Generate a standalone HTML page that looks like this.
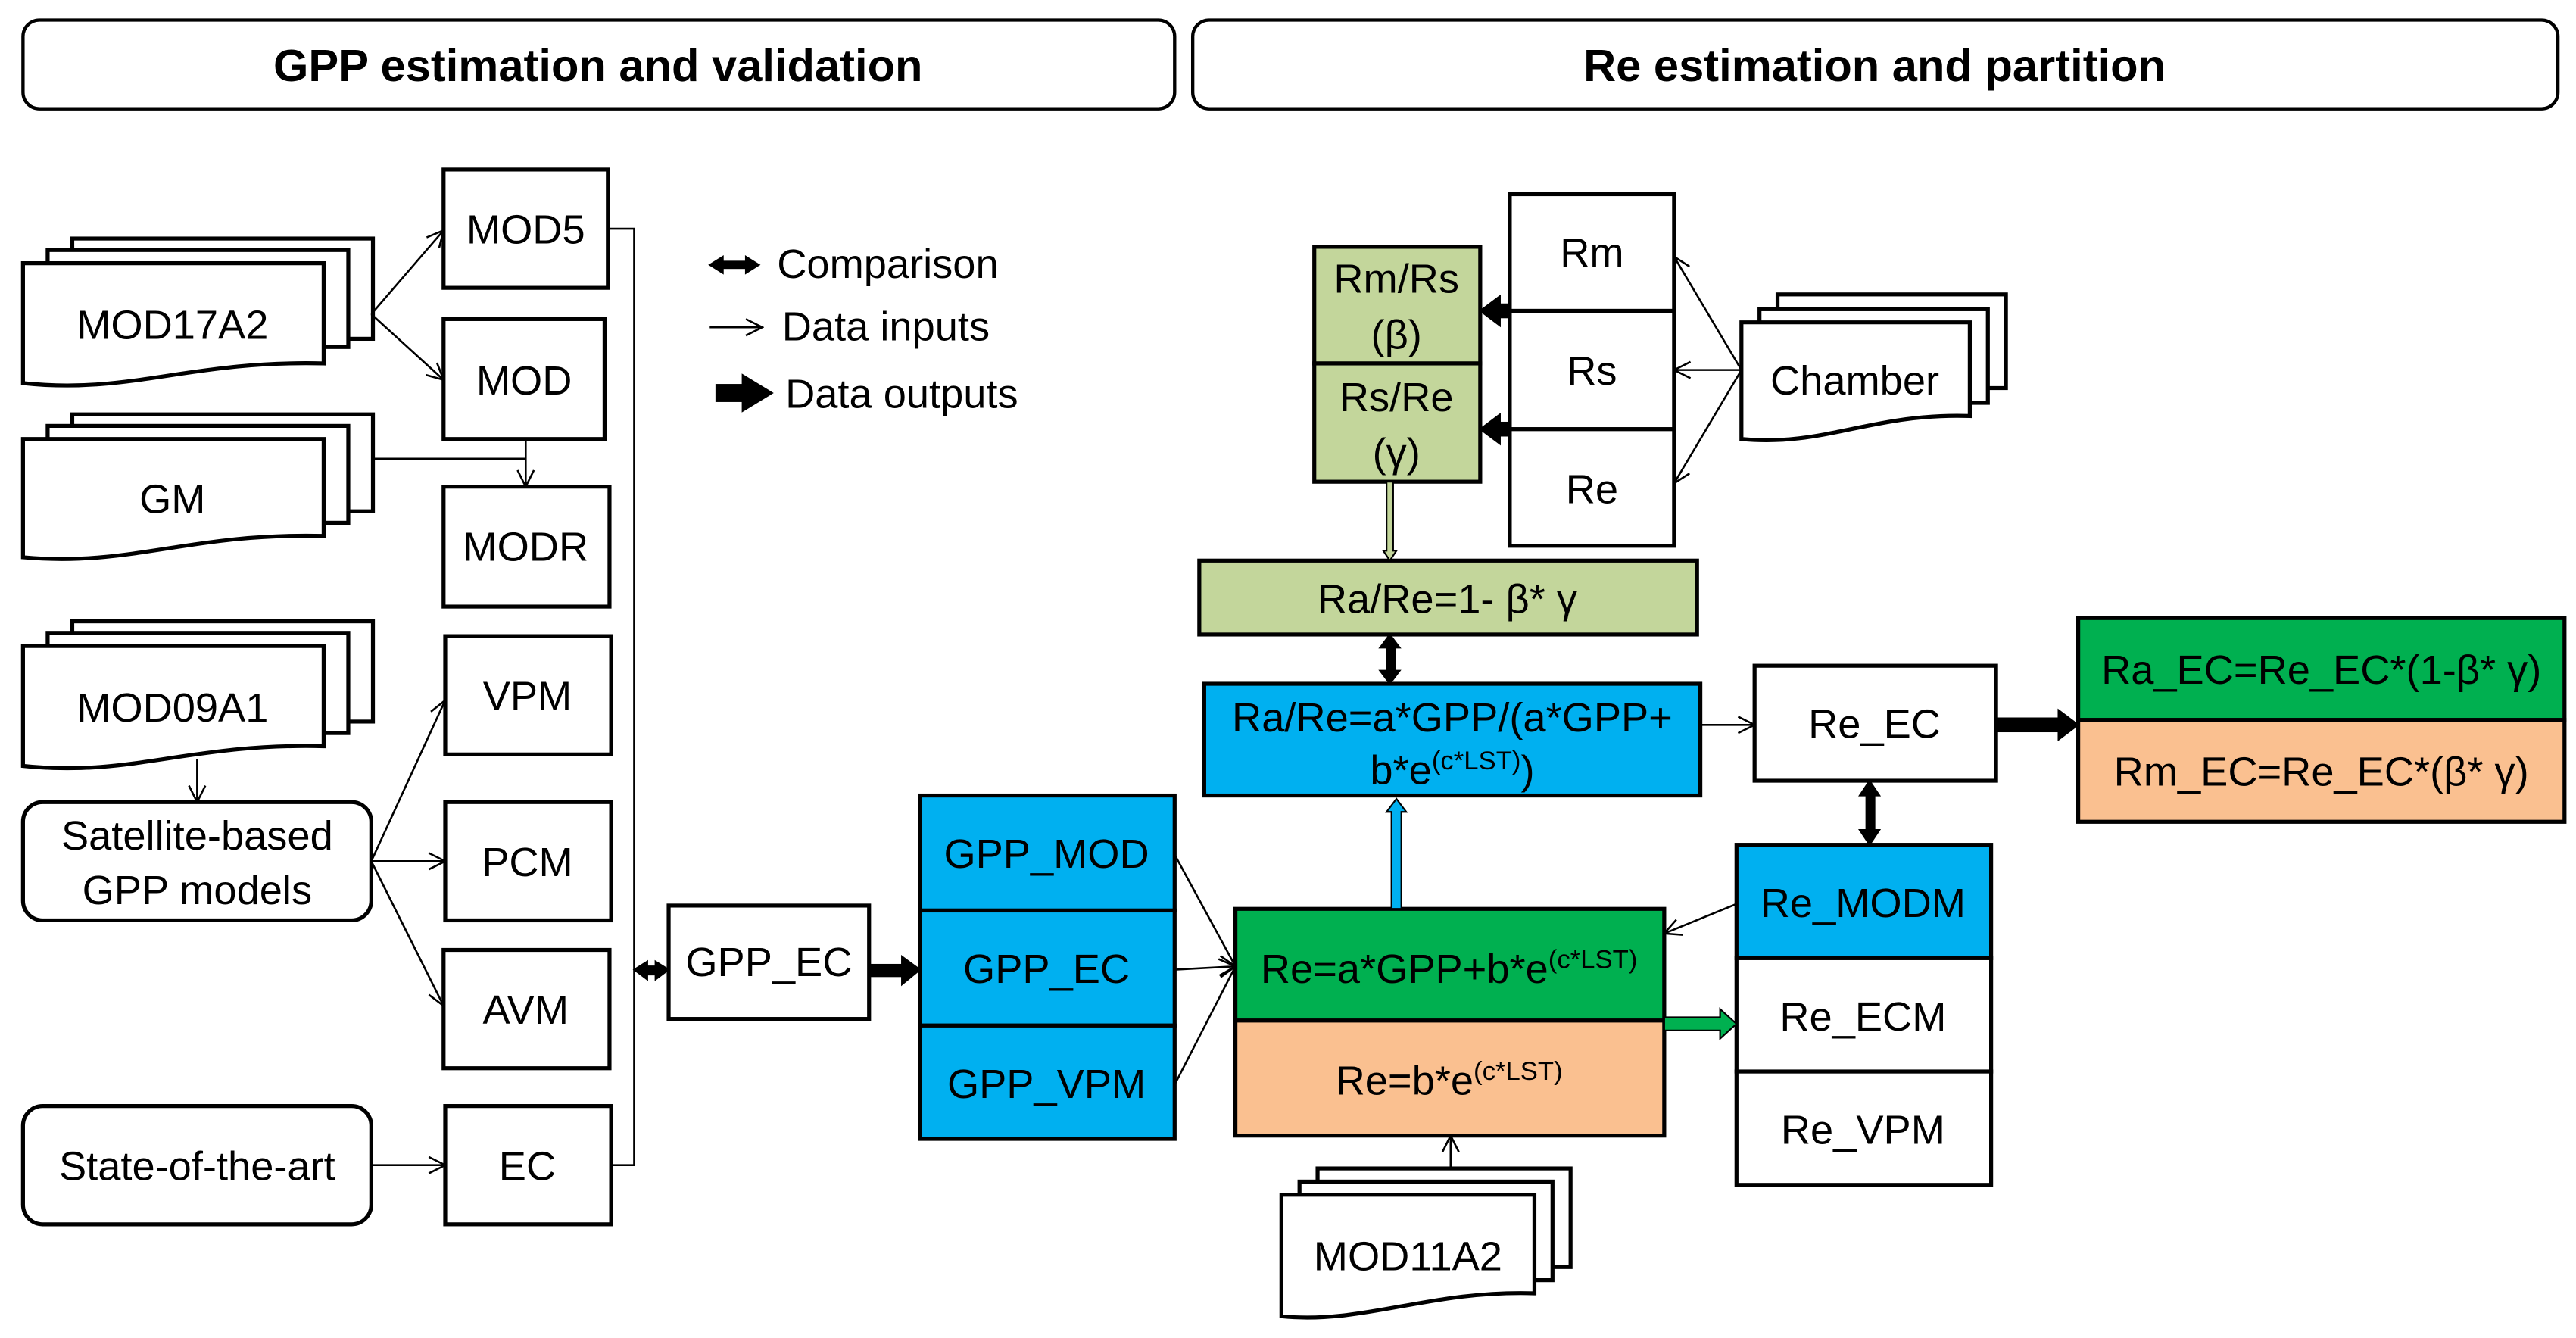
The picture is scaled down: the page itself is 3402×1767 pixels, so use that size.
<!DOCTYPE html>
<html><head><meta charset="utf-8"><style>html,body{margin:0;padding:0;background:#fff}svg{display:block}text{font-family:"Liberation Sans","DejaVu Sans",sans-serif;fill:#000}</style></head>
<body>
<svg width="3402" height="1767" viewBox="0 0 1568 814" xmlns="http://www.w3.org/2000/svg">
<defs>
<marker id="a" markerWidth="12" markerHeight="12" refX="11" refY="6" orient="auto" markerUnits="userSpaceOnUse"><path d="M1,1 L11,6 L1,11" fill="none" stroke="#000" stroke-width="1.2"/></marker>
</defs>
<g stroke="#000" stroke-width="2" fill="#fff">
<rect x="14" y="12" width="701" height="54" rx="10"/>
<rect x="726" y="12" width="831" height="54" rx="10"/>
</g>
<text x="364" y="49" font-size="27.5" font-weight="bold" text-anchor="middle">GPP estimation and validation</text>
<text x="1141" y="49" font-size="27.5" font-weight="bold" text-anchor="middle">Re estimation and partition</text>

<g stroke="#000" stroke-width="2.4" fill="#fff">
<rect x="44" y="145" width="183" height="61"/><rect x="29" y="152" width="183" height="59"/>
<path d="M14,160 H197 V221 C115,219 80,240 14,233 Z"/>
<rect x="44" y="252" width="183" height="59"/><rect x="29" y="259" width="183" height="59"/>
<path d="M14,267 H197 V326 C115,324 80,345 14,339 Z"/>
<rect x="44" y="378" width="183" height="61"/><rect x="29" y="385" width="183" height="61"/>
<path d="M14,393 H197 V454 C115,452 80,473 14,466 Z"/>
<rect x="1082" y="179" width="139" height="57"/><rect x="1071" y="188" width="139" height="57"/>
<path d="M1060,196 H1199 V253 C1140,251 1110,272 1060,267 Z"/>
<rect x="802" y="711" width="154" height="60"/><rect x="791" y="719" width="154" height="60"/>
<path d="M780,727 H934 V787 C870,785 830,806 780,801 Z"/>

<rect x="270" y="103" width="100" height="72"/>
<rect x="270" y="194" width="98" height="73"/>
<rect x="270" y="296" width="101" height="73"/>
<rect x="271" y="387" width="101" height="72"/>
<rect x="271" y="488" width="101" height="72"/>
<rect x="270" y="578" width="101" height="72"/>
<rect x="271" y="673" width="101" height="72"/>
<rect x="14" y="488" width="212" height="72" rx="12"/>
<rect x="14" y="673" width="212" height="72" rx="12"/>
<rect x="407" y="551" width="122" height="69"/>
<rect x="560" y="484" width="155" height="70" fill="#00b0f0"/>
<rect x="560" y="554" width="155" height="70" fill="#00b0f0"/>
<rect x="560" y="624" width="155" height="69" fill="#00b0f0"/>

<rect x="800" y="150" width="101" height="71" fill="#c3d69b"/>
<rect x="800" y="221" width="101" height="72" fill="#c3d69b"/>
<rect x="919" y="118" width="100" height="71"/>
<rect x="919" y="189" width="100" height="72"/>
<rect x="919" y="261" width="100" height="71"/>
<rect x="730" y="341" width="303" height="45" fill="#c3d69b"/>
<rect x="733" y="416" width="302" height="68" fill="#00b0f0"/>
<rect x="1068" y="405" width="147" height="70"/>
<rect x="1265" y="376" width="296" height="62" fill="#00b050"/>
<rect x="1265" y="438" width="296" height="62" fill="#fac090"/>
<rect x="1057" y="514" width="155" height="69" fill="#00b0f0"/>
<rect x="1057" y="583" width="155" height="69"/>
<rect x="1057" y="652" width="155" height="69"/>
<rect x="752" y="553" width="261" height="68" fill="#00b050"/>
<rect x="752" y="621" width="261" height="70" fill="#fac090"/>
</g>

<g stroke="#000" stroke-width="1.2" fill="none" marker-end="url(#a)">
<line x1="226" y1="191" x2="270" y2="140"/>
<line x1="226" y1="191" x2="270" y2="231"/>
<line x1="320" y1="267" x2="320" y2="296"/>
<line x1="120" y1="462" x2="120" y2="488"/>
<line x1="226" y1="524" x2="271" y2="426"/>
<line x1="226" y1="524" x2="271" y2="524"/>
<line x1="226" y1="524" x2="270" y2="612"/>
<line x1="226" y1="709" x2="271" y2="709"/>
<line x1="432" y1="199" x2="464" y2="199"/>
<line x1="715" y1="520" x2="752" y2="588"/>
<line x1="715" y1="590" x2="752" y2="588"/>
<line x1="715" y1="660" x2="752" y2="588"/>
<line x1="1060" y1="225" x2="1019" y2="156"/>
<line x1="1060" y1="225" x2="1019" y2="225"/>
<line x1="1060" y1="225" x2="1019" y2="294"/>
<line x1="1035" y1="441" x2="1068" y2="441"/>
<line x1="1057" y1="550" x2="1013" y2="568"/>
<line x1="883" y1="711" x2="883" y2="691"/>
</g>
<g stroke="#000" stroke-width="1.2" fill="none">
<line x1="226" y1="279" x2="320" y2="279"/>
<polyline points="370,139 386,139 386,709 372,709"/>
</g>

<g fill="#000" stroke="#000" stroke-width="1">
<rect x="438" y="159" width="18" height="4"/><path d="M432,161 L440,156 L440,166 Z M462,161 L454,156 L454,166 Z"/>
<rect x="436" y="234" width="20" height="10"/><path d="M452,228 L470,239 L452,250 Z"/>
<rect x="392" y="588" width="10" height="5"/><path d="M386,590 L394,585 L394,596 Z M407,590 L399,585 L399,596 Z"/>
<rect x="529" y="587" width="22" height="7"/><path d="M549,582 L560,590 L549,599 Z"/>
<rect x="911" y="185" width="8" height="8"/><path d="M901,189 L913,180 L913,198 Z"/>
<rect x="911" y="257" width="8" height="8"/><path d="M901,261 L913,252 L913,270 Z"/>
<rect x="844" y="392" width="5" height="18"/><path d="M846,386 L840,394 L852,394 Z M846,416 L840,408 L852,408 Z"/>
<rect x="1215" y="437" width="40" height="8"/><path d="M1253,432 L1265,441 L1253,450 Z"/>
<rect x="1136" y="482" width="5" height="25"/><path d="M1138,475 L1132,484 L1144,484 Z M1138,514 L1132,505 L1144,505 Z"/>
</g>
<path d="M844,293 V335 H842 L846,341 L850,335 H848 V293 Z" stroke="#000" stroke-width="1" fill="#c3d69b"/>
<path d="M847,553 V494 H844 L850,486 L856,494 H853 V553 Z" fill="#00b0f0" stroke="#000" stroke-width="1"/>
<path d="M1013,619 H1047 V614 L1057,623 L1047,632 V627 H1013 Z" fill="#00b050" stroke="#000" stroke-width="1"/>

<g font-size="25" text-anchor="middle">
<text x="105" y="206">MOD17A2</text>
<text x="105" y="312">GM</text>
<text x="105" y="439">MOD09A1</text>
<text x="1129" y="240">Chamber</text>
<text x="857" y="773">MOD11A2</text>
<text x="320" y="148">MOD5</text>
<text x="319" y="240">MOD</text>
<text x="320" y="341">MODR</text>
<text x="321" y="432">VPM</text>
<text x="321" y="533">PCM</text>
<text x="320" y="623">AVM</text>
<text x="321" y="718">EC</text>
<text x="120" y="517">Satellite-based</text>
<text x="120" y="550">GPP models</text>
<text x="120" y="718">State-of-the-art</text>
<text x="468" y="594">GPP_EC</text>
<text x="637" y="528">GPP_MOD</text>
<text x="637" y="598">GPP_EC</text>
<text x="637" y="668">GPP_VPM</text>
<text x="850" y="178">Rm/Rs</text>
<text x="850" y="212">(β)</text>
<text x="850" y="250">Rs/Re</text>
<text x="850" y="284">(γ)</text>
<text x="969" y="162">Rm</text>
<text x="969" y="234">Rs</text>
<text x="969" y="306">Re</text>
<text x="881" y="373">Ra/Re=1- β* γ</text>
<text x="884" y="445">Ra/Re=a*GPP/(a*GPP+</text>
<text x="884" y="477">b*e<tspan font-size="16" dy="-9">(c*LST)</tspan><tspan dy="9">)</tspan></text>
<text x="1141" y="449">Re_EC</text>
<text x="1413" y="416">Ra_EC=Re_EC*(1-β* γ)</text>
<text x="1413" y="478">Rm_EC=Re_EC*(β* γ)</text>
<text x="1134" y="558">Re_MODM</text>
<text x="1134" y="627">Re_ECM</text>
<text x="1134" y="696">Re_VPM</text>
<text x="882" y="598">Re=a*GPP+b*e<tspan font-size="16" dy="-9">(c*LST)</tspan></text>
<text x="882" y="666">Re=b*e<tspan font-size="16" dy="-9">(c*LST)</tspan></text>
</g>
<g font-size="25">
<text x="473" y="169">Comparison</text>
<text x="476" y="207">Data inputs</text>
<text x="478" y="248">Data outputs</text>
</g>
</svg>
</body></html>
